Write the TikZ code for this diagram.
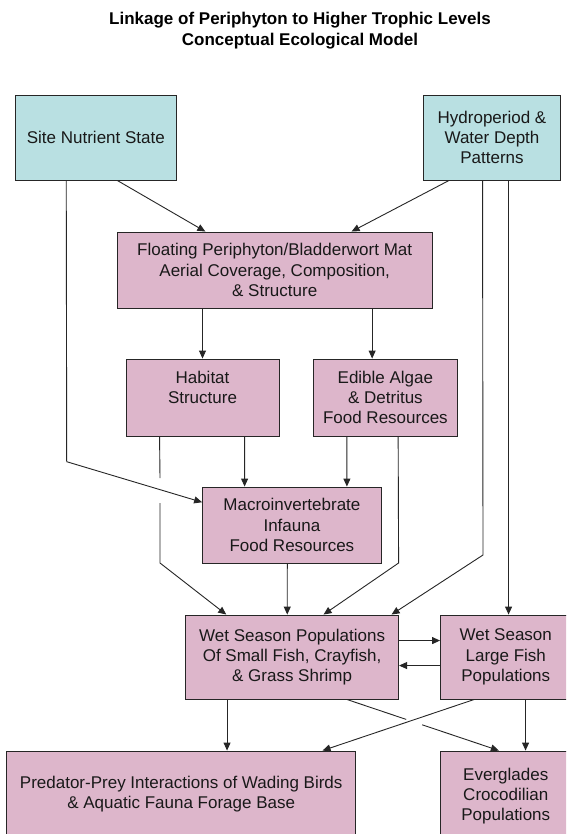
\documentclass[tikz,border=0pt]{standalone}
\usepackage{fontspec}
\setmainfont{Liberation Sans}
\usetikzlibrary{arrows.meta,calc}
\definecolor{cyanbox}{HTML}{B9E0E2}
\definecolor{pinkbox}{HTML}{DDB6CB}
\tikzset{
  box/.style={draw=black!85, line width=0.9pt, align=center, inner sep=1pt,
    font=\fontsize{17}{20.3}\selectfont, text=black!90},
  cbox/.style={box, fill=cyanbox},
  pbox/.style={box, fill=pinkbox},
  conn/.style={line width=0.9pt, draw=black!85},
  arr/.style={conn, -{Triangle[length=8pt,width=7pt]}},
}
\begin{document}
\begin{tikzpicture}[x=1pt,y=-1pt]
\useasboundingbox (0,0) rectangle (566,834);
\clip (0,0) rectangle (566,834);
\fill[white] (0,0) rectangle (566,834);

\node[font=\bfseries\fontsize{17}{21}\selectfont, align=center] (title) at (300,31)
  {Linkage of Periphyton to Higher Trophic Levels\\Conceptual Ecological Model};

\node[cbox, minimum width=161.7, minimum height=85] (site) at (95.85,137.5) {Site Nutrient State};
\node[cbox, minimum width=137, minimum height=85] (hydro) at (492,137.5) {Hydroperiod \&\\Water Depth\\Patterns};
\node[pbox, minimum width=314.8, minimum height=76] (float) at (274.7,270) {Floating Periphyton/Bladderwort Mat\\Aerial Coverage, Composition,\\\& Structure};
\node[pbox, minimum width=153, minimum height=77] (habitat) at (202.5,397.5) {Habitat\\Structure\\\mbox{}};
\node[pbox, minimum width=144.8, minimum height=77] (edible) at (385.4,397.5) {Edible Algae\\\& Detritus\\Food Resources};
\node[pbox, minimum width=178.7, minimum height=76] (macro) at (291.9,525) {Macroinvertebrate\\Infauna\\Food Resources};
\node[pbox, minimum width=213, minimum height=84] (wet) at (292.1,657) {Wet Season Populations\\Of Small Fish, Crayfish,\\\& Grass Shrimp};
\node[pbox, minimum width=130.5, minimum height=84] (large) at (505.75,657) {Wet Season\\Large Fish\\Populations};
\node[pbox, minimum width=349, minimum height=86] (pred) at (181.2,794) {Predator-Prey Interactions of Wading Birds\\\& Aquatic Fauna Forage Base};
\node[pbox, minimum width=130.5, minimum height=90] (ever) at (505.75,796) {Everglades\\Crocodilian\\Populations};

% top level
\draw[arr] ([xshift=102.7]site.south west) -- ([xshift=88.5]float.north west);
\draw[arr] ([xshift=26]hydro.south west) -- ([xshift=234.7]float.north west);
\coordinate (b1) at (66.7,461.7);
\draw[arr] ([xshift=51.7]site.south west) -- (b1) -- ([yshift=-15.7]macro.north west);

\draw[arr] (float.south -| habitat.north) -- (habitat.north);
\draw[arr] ([xshift=255.3]float.south west) -- ([xshift=59.6]edible.north west);

\coordinate (b2) at (483,555);
\draw[arr] ([xshift=59.5]hydro.south west) -- (b2) -- ([xshift=206.4]wet.north west);
\draw[arr] ([xshift=85.5]hydro.south west) -- ([xshift=68.5]large.north west);

\draw[arr] ([xshift=119]habitat.south west) -- ([xshift=42.5]macro.north west);
\draw[arr] ([xshift=34.3]edible.south west) -- ([xshift=144.8]macro.north west);

\coordinate (g1) at (160,478);
\coordinate (g2) at (160,503);
\coordinate (b3) at (160,563);
\draw[conn] ([xshift=34]habitat.south west) -- (g1);
\draw[arr] (g2) -- (b3) -- ([xshift=41.1]wet.north west);

\coordinate (b4) at (398.6,563);
\draw[arr] ([xshift=85.6]edible.south west) -- (b4) -- ([xshift=138.4]wet.north west);

\draw[arr] ([xshift=85.2]macro.south west) -- ([xshift=102.1]wet.north west);

\draw[arr] ([yshift=-26]wet.north east) -- ([yshift=-26]large.north west);
\draw[arr] ([yshift=-51]large.north west) -- ([yshift=-51]wet.north east);

\draw[arr] ([xshift=41.9]wet.south west) -- ([xshift=220.8]pred.north west);
\draw[arr] ([xshift=34.2]large.south west) -- ([xshift=316.3]pred.north west);
\coordinate (wA) at ([xshift=161.7]wet.south west);
\coordinate (wB) at ([xshift=58.8]ever.north west);
\draw[conn] (wA) -- ($(wA)!0.39!(wB)$);
\draw[arr] ($(wA)!0.496!(wB)$) -- (wB);
\draw[arr] ([xshift=85.5]large.south west) -- ([xshift=85.5]ever.north west);
\end{tikzpicture}
\end{document}
